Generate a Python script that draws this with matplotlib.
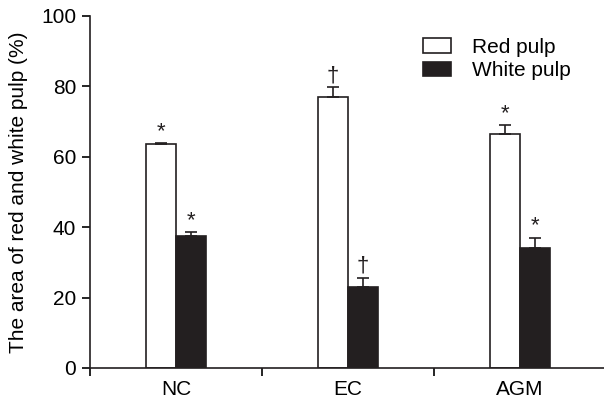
import matplotlib
matplotlib.use('Agg')
import matplotlib.pyplot as plt
import numpy as np

plt.rcParams['font.family'] = ['Liberation Sans', 'DejaVu Sans']

groups = ['NC', 'EC', 'AGM']
red_pulp = [63.5, 77.0, 66.6]
red_err = [0.3, 2.7, 2.4]
white_pulp = [37.6, 23.1, 34.2]
white_err = [0.9, 2.5, 2.8]
red_marks = ['*', '\u2020', '*']
white_marks = ['*', '\u2020', '*']

black = '#231f20'
fig = plt.figure(figsize=(6.04, 4.05), dpi=100)
ax = fig.add_axes([0.149, 0.0914, 0.854, 0.8691])

x = np.arange(len(groups))
w = 0.175
ax.bar(x - w/2, red_pulp, w, color='white', edgecolor=black, linewidth=1.2,
       yerr=[np.zeros(3), red_err], capsize=4.5,
       error_kw=dict(ecolor=black, elinewidth=1.2, capthick=1.2), label='Red pulp')
ax.bar(x + w/2, white_pulp, w, color=black, edgecolor=black, linewidth=1.2,
       yerr=[np.zeros(3), white_err], capsize=4.5,
       error_kw=dict(ecolor=black, elinewidth=1.2, capthick=1.2), label='White pulp')

for i in range(len(groups)):
    ax.annotate(red_marks[i], (x[i] - w/2, red_pulp[i] + red_err[i]), xytext=(0, 1),
                textcoords='offset points', ha='center', va='bottom', fontsize=16, color=black)
    ax.annotate(white_marks[i], (x[i] + w/2, white_pulp[i] + white_err[i]), xytext=(0, 1),
                textcoords='offset points', ha='center', va='bottom', fontsize=16, color=black)

ax.set_xlim(-0.5, 2.5)
ax.set_ylim(0, 100)
ax.set_yticks([0, 20, 40, 60, 80, 100])
ax.set_xticks(x)
ax.set_xticklabels(groups)
ax.set_xticks([-0.5, 0.5, 1.5, 2.5], minor=True)
ax.tick_params(axis='x', which='major', length=0, pad=9, labelsize=15)
ax.tick_params(axis='x', which='minor', length=6, width=1.2, direction='out')
ax.tick_params(axis='y', length=6, width=1.2, direction='out', labelsize=15, pad=4)
for s in ['top', 'right']:
    ax.spines[s].set_visible(False)
for s in ['left', 'bottom']:
    ax.spines[s].set_linewidth(1.2)
    ax.spines[s].set_color(black)

ax.set_ylabel('The area of red and white pulp (%)', fontsize=15, labelpad=9)

ax.legend(loc='upper left', bbox_to_anchor=(423/604, 1 - 38/405),
          bbox_transform=fig.transFigure, frameon=False, fontsize=15,
          handlelength=1.35, handleheight=0.7, handletextpad=1.0, labelspacing=0.2,
          borderaxespad=0, borderpad=0)

fig.savefig('out.png', dpi=100)
